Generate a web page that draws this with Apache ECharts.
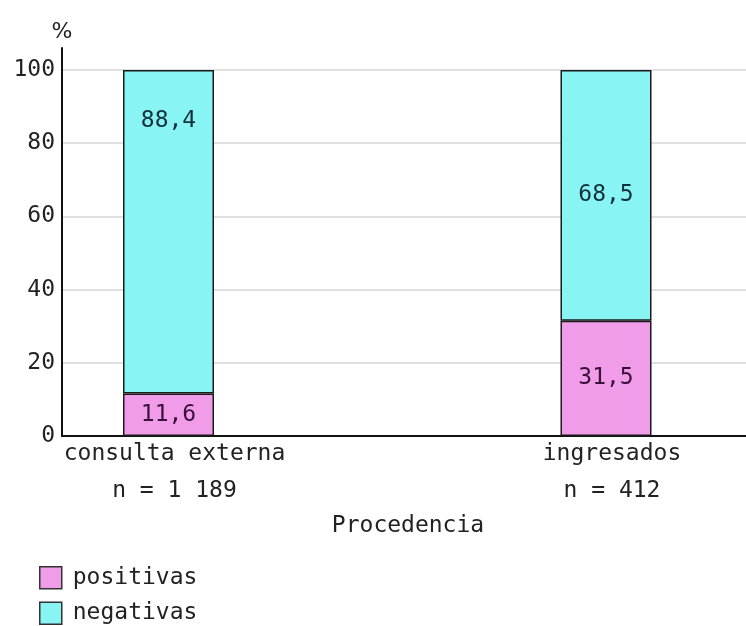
<!DOCTYPE html>
<html>
<head>
<meta charset="utf-8">
<script src="https://cdn.jsdelivr.net/npm/echarts@6/dist/echarts.min.js"></script>
<style>
  html, body { margin: 0; padding: 0; background: #fff; }
  #chart { width: 746px; height: 626px; }
</style>
</head>
<body>
<div id="chart"></div>
<script>
// Share of positive / negative results by origin of the sample
const categories = ['consulta externa', 'ingresados'];
const sampleSizes = ['n = 1 189', 'n = 412'];
const positivas = [11.6, 31.5];
const negativas = [88.4, 68.5];
const yTicks = [0, 20, 40, 60, 80, 100];

const FONT = 'DejaVu Sans Mono';
const TEXT = '#222';
const Y_MAX = 106;

const fmt = v => v.toFixed(1).replace('.', ',');

const chart = echarts.init(document.getElementById('chart'), null, { renderer: 'canvas' });

chart.setOption({
  animation: false,
  backgroundColor: '#fff',
  textStyle: { fontFamily: FONT },
  grid: [
    // visible frame: axes, tick labels, grid lines
    { left: 62, right: 0, top: 48, bottom: 190 },
    // bar layout: the two categories sit on the left and right edges
    { left: 168.5, width: 437.5, top: 48, bottom: 190 }
  ],
  legend: {
    data: ['positivas', 'negativas'],
    orient: 'vertical',
    left: 39,
    top: 566,
    padding: 0,
    icon: 'rect',
    itemWidth: 22,
    itemHeight: 22,
    itemGap: 12,
    itemStyle: { borderColor: '#333', borderWidth: 1.5 },
    textStyle: { fontFamily: FONT, fontSize: 23, lineHeight: 22, color: TEXT, padding: [0, 0, 0, 6] }
  },
  xAxis: [
    {
      gridIndex: 0,
      type: 'value',
      min: -0.2434,
      max: 1.32,
      name: 'Procedencia',
      nameLocation: 'middle',
      nameGap: 74,
      nameTextStyle: { fontFamily: FONT, fontSize: 23, color: TEXT, padding: [0, 0, 0, 8] },
      axisLine: { show: true, onZero: false, lineStyle: { color: '#111', width: 2 } },
      axisTick: { show: false },
      splitLine: { show: false },
      axisLabel: {
        customValues: categories.map((c, i) => i),
        formatter: v => categories[v] + '\n' + sampleSizes[v],
        fontFamily: FONT,
        fontSize: 23,
        lineHeight: 37,
        color: TEXT,
        padding: [0, 0, 0, 12],
        margin: 0
      }
    },
    {
      gridIndex: 1,
      type: 'category',
      data: categories,
      boundaryGap: false,
      show: false
    }
  ],
  yAxis: [
    {
      gridIndex: 0,
      type: 'value',
      min: 0,
      max: Y_MAX,
      interval: 20,
      name: '%',
      nameLocation: 'end',
      nameGap: 5,
      nameTextStyle: { fontFamily: 'DejaVu Sans', fontSize: 22, color: TEXT, align: 'center' },
      axisLine: { show: true, onZero: false, lineStyle: { color: '#111', width: 2 } },
      axisTick: { show: false },
      axisLabel: {
        showMaxLabel: false,
        formatter: v => (yTicks.includes(v) ? String(v) : ''),
        fontFamily: FONT,
        fontSize: 23,
        color: TEXT,
        margin: 7
      },
      splitLine: { show: true, showMaxLine: false, lineStyle: { color: '#e0e0e0', width: 2 } }
    },
    {
      gridIndex: 1,
      type: 'value',
      min: 0,
      max: Y_MAX,
      show: false,
      splitLine: { show: false }
    }
  ],
  series: [
    {
      name: 'positivas',
      type: 'bar',
      xAxisIndex: 1,
      yAxisIndex: 1,
      stack: 'total',
      barWidth: 91,
      data: positivas,
      itemStyle: { color: '#f09ce8', borderColor: '#1a1a1a', borderWidth: 1.5 },
      label: {
        show: true,
        position: 'inside',
        fontFamily: FONT,
        fontSize: 23,
        color: '#3a103a',
        formatter: p => fmt(p.value)
      }
    },
    {
      name: 'negativas',
      type: 'bar',
      xAxisIndex: 1,
      yAxisIndex: 1,
      stack: 'total',
      barWidth: 91,
      data: negativas.map((v, i) =>
        i === 0 ? { value: v, label: { position: 'insideTop', distance: 40 } } : v
      ),
      itemStyle: { color: '#88f4f4', borderColor: '#1a1a1a', borderWidth: 1.5 },
      label: {
        show: true,
        position: 'inside',
        fontFamily: FONT,
        fontSize: 23,
        color: '#13303a',
        formatter: p => fmt(p.value)
      }
    }
  ]
});
</script>
</body>
</html>
